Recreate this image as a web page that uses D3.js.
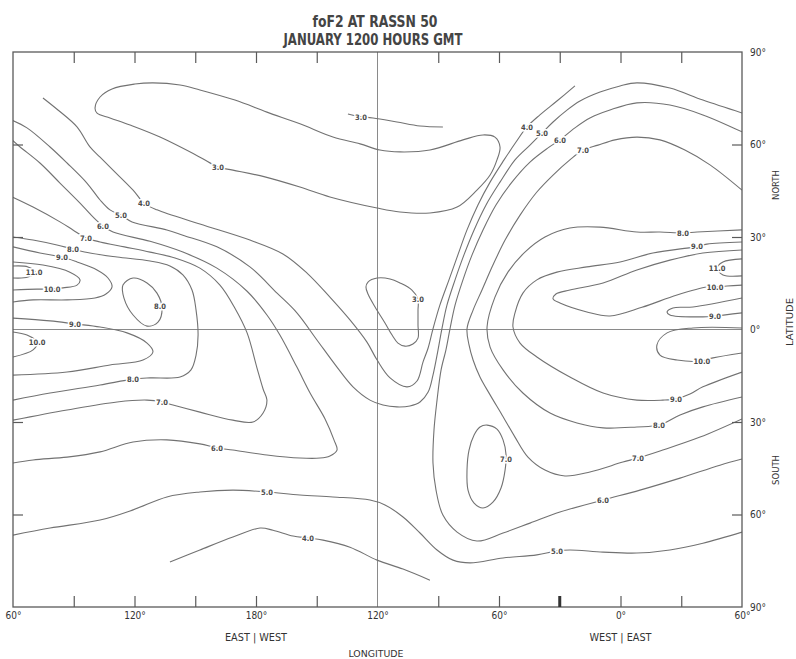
<!DOCTYPE html>
<html>
<head>
<meta charset="utf-8">
<script src="https://cdn.jsdelivr.net/npm/d3@7"></script>
<style>
  body { margin: 0; background: #fff; }
  text { font-family: 'DejaVu Sans Condensed', 'Liberation Sans Narrow', sans-serif; }
</style>
</head>
<body>
<script>
// longitude runs continuously from 60E (left) through 180 to 60E again (420)
const lonTicks = [60, 120, 180, 240, 300, 360, 420]
const lonLabels = ['60°', '120°', '180°', '120°', '60°', '0°', '60°']
const lonMinor = [90, 120, 150, 180, 210, 270, 300, 330, 360, 390]
const latTicks = [90, 60, 30, 0, -30, -60, -90]
const latLabels = ['90°', '60°', '30°', '0°', '30°', '60°', '90°']
const latMinor = [60, 30, -30, -60]

// foF2 contours, [lon, lat]
const f3North = [[100.5,71.8],[103,75.4],[108.9,78],[120.2,79.6],[129.1,80],[142.5,79.3],[152.3,77.7],[169.6,74.4],[185.4,70.5],[201.7,66.7],[218,62.4],[231.4,60.2],[241.2,58.2],[251.1,57.6],[265.9,58.2],[282.2,61.5],[292.1,63.1],[298,62.4],[300.5,59.2],[299,55],[295.6,50.1],[289.1,45.2],[279.3,39.7],[265.9,37.8],[251.1,38.1],[239.8,39.4],[216.5,43],[201.7,46.2],[184.4,49.5],[168.6,51.7],[161.2,52.7],[152.3,55.9],[132.6,62.4],[117.8,66.3],[107.9,68.6],[101.5,70.2]]
const f3Segment = [[225.4,69.9],[229.9,69.2],[237.8,68.6],[249.6,67.3],[261,66],[272.3,65.7]]
const f3Equator = [[235.3,15.4],[239.8,16.7],[246.2,16.4],[251.1,15.1],[257,12.8],[260,9.9],[260,6.3],[260,1.5],[260,-2.8],[257.5,-4.7],[253.6,-5.4],[250.1,-4.4],[247.2,-1.8],[243.7,2.1],[238.8,7.3],[235.3,11.5],[234.3,13.8]]
const f4Main = [[74.8,75.1],[82.2,71.2],[91.6,65.7],[98,59.2],[103,55.9],[109.4,51.7],[119.3,45.2],[124.7,41],[131.1,38.8],[152.3,34.2],[177,29],[193.3,24.5],[205.2,18.3],[216.5,10.5],[226.4,3.1],[234.8,-4.1],[239.8,-9.9],[246.2,-15.7],[254.6,-18.6],[259.5,-16.7],[262.5,-10.5],[265,-6],[267.4,0.2],[270.8,7.9],[275.3,16.1],[279.7,24.2],[284.2,32.3],[289.6,40.4],[295.6,47.8],[302.5,55],[308.4,60.8],[313.8,65.7],[320.2,69.6],[328.6,74.1],[337.5,79]]
const f4South = [[137.5,-75.4],[152.3,-71.5],[168.6,-67.3],[182,-64.4],[188.4,-65.1],[198.3,-67],[205.7,-67.6],[213.1,-68.3],[226.4,-70.6],[239.8,-74.8],[252.6,-77.7],[265.9,-81.3]]
const f5Main = [[59.5,67.9],[66.9,65.4],[78.3,59.2],[86.7,54],[96.5,47.5],[103,42],[107.9,38.8],[113.3,37.1],[118.8,34.9],[136,32.3],[143.9,30.6],[160.7,26.8],[177,20.3],[190.4,11.8],[200.2,5.4],[210.1,-3.4],[220,-12.2],[227.9,-18.6],[236.3,-22.9],[242.7,-24.5],[249.6,-25.1],[256,-24.8],[261,-23.5],[265,-20.3],[267.4,-14.8],[269.9,-6.6],[271.8,0.2],[274.3,7.9],[278.3,16.1],[282.7,24.2],[287.7,32.3],[293.6,40.4],[300.5,47.8],[307.9,55],[315.3,59.8],[321.2,63.7],[326.7,67.3],[333.1,70.9],[340,74.1],[349.9,77],[359.8,79],[368.1,80],[384.4,78.3],[400.7,74.4],[420,70.2]]
const f5South = [[60,-66.7],[78.3,-64.4],[103,-61.8],[119.3,-58.5],[136,-54.3],[152.3,-52.7],[168.6,-52.1],[185.4,-52.7],[201.7,-53.7],[218,-54.3],[236.3,-55.3],[243.7,-56.9],[252.6,-60.8],[261,-66],[269.4,-71.5],[277.3,-74.8],[285.7,-75.7],[302,-74.1],[318.7,-73.1],[328.6,-71.8],[335,-71.5],[351.4,-72.2],[368.1,-72.5],[384.4,-71.5],[400.7,-69.3],[420,-65.7]]
const f6West = [[59.5,61.5],[63.5,59.2],[73.3,54],[83.2,47.5],[93.1,41],[99.5,36.5],[104.4,33.6],[109.4,31.6],[127.7,28.6],[143.9,25.1],[160.7,19.9],[175.6,12.4],[185.4,4.7],[191.8,-1.8],[200.2,-12.2],[206.7,-20.6],[214.1,-29],[218.5,-35.8],[220,-39.1],[216.5,-41],[211.6,-41.7],[201.7,-41.7],[185.4,-40.7],[168.6,-39.1],[160.7,-38.4],[152.3,-37.1],[136,-35.8],[119.3,-36.5],[103,-39.7],[86.7,-41.4],[69.9,-42.3],[60,-43.3]]
const f6East = [[420,64.1],[400.7,69.6],[384.4,72.8],[368.1,73.5],[354.8,71.2],[344.9,68.6],[337.5,65.4],[330.1,61.5],[324.2,58.9],[315.3,54.3],[306.4,47.8],[298.5,40.4],[292.1,32.3],[286.7,24.2],[282.2,16.1],[278.3,7.9],[275.8,0.2],[273.8,-6.6],[271.4,-13.1],[269.4,-22.9],[267.9,-32.6],[267.4,-43.3],[268.9,-52.1],[272.3,-60.2],[279.3,-65.7],[289.1,-68.6],[302,-66],[315.3,-62.8],[330.1,-59.2],[351.4,-55.3],[369.6,-52.1],[389.4,-48.2],[409.1,-44],[420,-42]]
const f7West = [[59.5,43],[69.9,39.7],[83.2,34.9],[89.6,32.3],[96,29.7],[103,28.4],[115,26.8],[127.7,25.1],[140,23.2],[152.3,19.9],[162.2,14.4],[169.6,6.9],[175.6,-1.1],[180.5,-12.5],[183.5,-19.3],[185.4,-22.9],[183.5,-27.1],[178.5,-30],[168.6,-29.4],[152.3,-26.8],[139,-24.5],[133.6,-23.5],[126.2,-22.9],[111.4,-23.5],[86.7,-26.1],[60,-29.4]]
const f7East = [[420,45.2],[404.2,53.4],[391.8,58.2],[379.5,61.5],[368.1,62.4],[357.3,61.5],[348.9,59.8],[341.5,58.2],[335,55],[326.7,50.1],[318.7,44.6],[310.4,37.1],[303,29],[297,20.9],[291.6,12.8],[287.2,6.3],[284.2,0.2],[285.2,-5],[287.2,-9.9],[290.6,-15.4],[295.6,-21.2],[301.5,-27.7],[307.9,-34.9],[314.3,-41.4],[322.7,-45.6],[332.6,-47.5],[344.9,-46.2],[361.2,-43],[368.6,-41.7],[379.5,-39.4],[399.3,-34.9],[420,-29]]
const f7Cell = [[294.1,-31],[299,-32.3],[302,-35.8],[303.5,-40.7],[303,-45.6],[301,-51.4],[297,-56],[292.1,-57.9],[287.7,-56.3],[284.7,-52.1],[284.2,-45.6],[285.2,-39.1],[287.7,-34.2],[290.6,-31.6]]
const f8West = [[60,30],[69.9,29],[81.7,27.4],[89.6,26.1],[98,24.8],[111.4,23.5],[127.7,22.2],[137.5,20.6],[143.9,17.7],[148.4,12.8],[150.4,6.3],[151.4,-1.8],[150.4,-8.3],[147.9,-13.1],[142.5,-15.4],[127.7,-15.7],[119.3,-16.1],[103,-18],[78.3,-20.6],[60,-22.9]]
const f8Cell = [[114.3,14.4],[119.3,16.7],[126.2,15.1],[131.1,11.8],[133.6,7],[131.6,2.4],[126.2,1.1],[119.3,4.7],[114.8,10.2]]
const f8East = [[420,32.3],[397.8,31.6],[390.9,31.3],[379.5,31.6],[368.1,31.6],[349.9,33.2],[335,32.9],[322.7,30],[312.8,25.1],[304.4,18.6],[298,10.5],[294.1,0.8],[295.6,-5.7],[302,-13.1],[311.8,-20.6],[325.2,-27.1],[338.5,-30.3],[351.4,-31.9],[368.1,-31.6],[379,-31],[389.4,-27.7],[400.7,-25.1],[420,-21.9]]
const f9WestN = [[60,26.8],[73.3,24.8],[84.2,23.5],[91.6,21.9],[101.5,19.3],[106.9,16.7],[108.9,13.8],[105.9,11.5],[100.5,10.2],[86.7,9.6],[69.9,9.6],[60,8.9]]
const f9WestS = [[60,3.7],[78.3,2.8],[90.6,1.8],[103,0.8],[116.3,-1.1],[126.2,-4.4],[129.1,-7.3],[124.2,-9.9],[107.9,-11.5],[86.7,-13.8],[60,-14.8]]
const f9East = [[420,28.4],[402.7,27.7],[397.8,26.8],[392.8,26.4],[376,24.8],[359.8,21.9],[343.4,20.3],[328.6,18.6],[318.7,16.1],[311.8,11.8],[307.9,5.4],[306.9,0.8],[310.4,-4.4],[318.7,-8.9],[335,-15.4],[351.4,-20.6],[368.1,-22.9],[380.9,-22.9],[387.4,-22.5],[394.3,-20.9],[400.7,-18.6],[420,-13.8]]
const f9EastCell = [[420,10.2],[395.8,7.3],[385.9,7],[383,5.7],[384.4,4.7],[400.7,4.1],[406.7,4.4],[420,5.4]]
const f10WestN = [[60,21.9],[74.8,20.9],[88.1,18.6],[93.1,16.1],[91.6,14.4],[84.7,13.5],[79.3,13.1],[71.9,13.1],[60,12.8]]
const f10WestS = [[60,-0.8],[66.9,-1.8],[71.9,-4.1],[69.9,-6.6],[60,-8.9]]
const f10EastN = [[420,25.8],[400.7,24.8],[384.4,22.5],[368.1,19.3],[351.4,15.1],[335,12.8],[328.1,11.5],[326.7,9.9],[330.1,8.6],[343.4,5.7],[354.8,4.4],[370.6,7.2],[387.9,11.2],[402.7,13.8],[406.7,13.8],[412.6,14.1],[420,14.4]]
const f10EastS = [[420,0.5],[395.8,0.5],[383,-1.1],[378,-5],[379.5,-8.3],[387.9,-9.9],[400.2,-10.2],[405.7,-9.2],[420,-7.6]]
const f11West = [[60,20.6],[67.4,20.3],[70.9,18.6],[67.4,17],[60,16.7]]
const f11East = [[420,22.9],[410.6,21.9],[407.7,19.9],[410.6,17.7],[420,17.4]]

const contours = [
  { pts: f3North, closed: true }, { pts: f3Segment }, { pts: f3Equator, closed: true },
  { pts: f4Main }, { pts: f4South }, { pts: f5Main }, { pts: f5South },
  { pts: f6West }, { pts: f6East }, { pts: f7West }, { pts: f7East }, { pts: f7Cell, closed: true },
  { pts: f8West }, { pts: f8Cell, closed: true }, { pts: f8East },
  { pts: f9WestN }, { pts: f9WestS }, { pts: f9East }, { pts: f9EastCell },
  { pts: f10WestN }, { pts: f10WestS }, { pts: f10EastN }, { pts: f10EastS },
  { pts: f11West }, { pts: f11East },
]

// contour labels: text, lon, lat
const labelText = ['3.0', '3.0', '3.0', '4.0', '4.0', '4.0', '5.0', '5.0', '5.0', '5.0',
  '6.0', '6.0', '6.0', '6.0', '7.0', '7.0', '7.0', '7.0', '7.0',
  '8.0', '8.0', '8.0', '8.0', '8.0', '9.0', '9.0', '9.0', '9.0', '9.0',
  '10.0', '10.0', '10.0', '10.0', '11.0', '11.0']
const labelLon = [161.2, 231.9, 260, 124.7, 313.8, 205.7, 113.3, 321.2, 185.4, 328.6,
  104.4, 330.1, 160.7, 351.4, 96, 341.5, 133.6, 368.6, 303.5,
  89.6, 132.6, 119.3, 390.9, 379, 84.2, 90.6, 397.8, 406.7, 387.4,
  79.3, 71.9, 406.7, 400.2, 70.4, 407.7]
const labelLat = [52.7, 68.9, 9.9, 41, 65.7, -67.6, 37.1, 63.7, -52.7, -71.8,
  33.6, 61.5, -38.4, -55.3, 29.7, 58.2, -23.5, -41.7, -42,
  26.1, 7.6, -16.1, 31.3, -31, 23.5, 1.8, 26.8, 4.4, -22.5,
  13.1, -4.1, 13.8, -10.2, 18.6, 19.9]

const width = 796
const height = 659
const ink = '#727272'

const x = d3.scaleLinear().domain([60, 420]).range([13, 742])
const y = d3.scaleLinear().domain([90, -90]).range([52, 607])

const svg = d3.select('body').append('svg')
  .attr('width', width)
  .attr('height', height)

svg.append('clipPath').attr('id', 'frame')
  .append('rect')
  .attr('x', x(60)).attr('y', y(90))
  .attr('width', x(420) - x(60)).attr('height', y(-90) - y(90))

// grid: equator and 120W meridian
svg.append('line')
  .attr('x1', x(60)).attr('x2', x(420)).attr('y1', y(0)).attr('y2', y(0))
  .attr('stroke', '#8a8a8a').attr('stroke-width', 1)
svg.append('line')
  .attr('x1', x(240)).attr('x2', x(240)).attr('y1', y(90)).attr('y2', y(-90))
  .attr('stroke', '#8a8a8a').attr('stroke-width', 1)

const lineOpen = d3.line().x((d) => x(d[0])).y((d) => y(d[1])).curve(d3.curveCatmullRom.alpha(0.5))
const lineClosed = d3.line().x((d) => x(d[0])).y((d) => y(d[1])).curve(d3.curveCatmullRomClosed.alpha(0.5))

svg.append('g')
  .attr('clip-path', 'url(#frame)')
  .selectAll('path')
  .data(contours)
  .enter()
  .append('path')
  .attr('d', (d) => (d.closed ? lineClosed(d.pts) : lineOpen(d.pts)))
  .attr('fill', 'none')
  .attr('stroke', ink)
  .attr('stroke-width', 1.1)

// labels on the contours, with a white halo to break the line
svg.append('g')
  .selectAll('text')
  .data(labelText)
  .enter()
  .append('text')
  .attr('x', (d, i) => x(labelLon[i]))
  .attr('y', (d, i) => y(labelLat[i]))
  .attr('dy', '0.35em')
  .attr('text-anchor', 'middle')
  .attr('font-size', 7.5)
  .attr('font-weight', 'bold')
  .attr('fill', '#4a4a4a')
  .attr('stroke', '#fff')
  .attr('stroke-width', 3)
  .attr('paint-order', 'stroke')
  .text((d) => d)

// frame
svg.append('rect')
  .attr('x', x(60)).attr('y', y(90))
  .attr('width', x(420) - x(60)).attr('height', y(-90) - y(90))
  .attr('fill', 'none').attr('stroke', '#5a5a5a').attr('stroke-width', 1.3)

// inward ticks on all four sides
const tickStyle = (g) => {
  g.select('.domain').remove()
  g.selectAll('line').attr('stroke', '#5a5a5a').attr('stroke-width', 1.2)
}
svg.append('g').attr('transform', `translate(0,${y(90)})`)
  .call(d3.axisTop(x).tickValues(lonMinor).tickSize(-11).tickFormat(''))
  .call(tickStyle)
svg.append('g').attr('transform', `translate(0,${y(-90)})`)
  .call(d3.axisBottom(x).tickValues(lonMinor).tickSize(-11).tickFormat(''))
  .call(tickStyle)
svg.append('g').attr('transform', `translate(${x(60)},0)`)
  .call(d3.axisLeft(y).tickValues(latMinor).tickSize(-10).tickFormat(''))
  .call(tickStyle)
svg.append('g').attr('transform', `translate(${x(420)},0)`)
  .call(d3.axisRight(y).tickValues(latMinor).tickSize(-10).tickFormat(''))
  .call(tickStyle)

// heavy marker at 30W on the bottom edge
svg.append('line')
  .attr('x1', x(330)).attr('x2', x(330))
  .attr('y1', y(-90)).attr('y2', y(-90) - 11)
  .attr('stroke', '#333').attr('stroke-width', 3)

// longitude labels
const lonAxis = svg.append('g').attr('transform', `translate(0,${y(-90)})`)
  .call(d3.axisBottom(x).tickValues(lonTicks).tickSize(0).tickPadding(5)
    .tickFormat((d, i) => lonLabels[i]))
lonAxis.select('.domain').remove()
lonAxis.selectAll('text')
  .attr('font-size', 10).attr('fill', '#333')
  .style('font-family', "'DejaVu Sans Condensed', sans-serif")

// latitude labels
const latAxis = svg.append('g').attr('transform', `translate(${x(420)},0)`)
  .call(d3.axisRight(y).tickValues(latTicks).tickSize(0).tickPadding(8)
    .tickFormat((d, i) => latLabels[i]))
latAxis.select('.domain').remove()
latAxis.selectAll('text')
  .attr('font-size', 10).attr('fill', '#333')
  .style('font-family', "'DejaVu Sans Condensed', sans-serif")

// titles
svg.append('text')
  .attr('x', 375).attr('y', 27)
  .attr('text-anchor', 'middle')
  .attr('font-size', 15).attr('font-weight', 'bold').attr('fill', '#444')
  .attr('textLength', 125).attr('lengthAdjust', 'spacingAndGlyphs')
  .text('foF2 AT RASSN 50')
svg.append('text')
  .attr('x', 373).attr('y', 45)
  .attr('text-anchor', 'middle')
  .attr('font-size', 15).attr('font-weight', 'bold').attr('fill', '#444')
  .attr('textLength', 179).attr('lengthAdjust', 'spacingAndGlyphs')
  .text('JANUARY  1200 HOURS GMT')

// axis words
const word = (txt, tx, ty, rot, size, len) => {
  const t = svg.append('text')
    .attr('transform', `translate(${tx},${ty}) rotate(${rot})`)
    .attr('text-anchor', 'middle')
    .attr('font-size', size).attr('fill', '#333')
    .text(txt)
  if (len) t.attr('textLength', len).attr('lengthAdjust', 'spacingAndGlyphs')
}
word('EAST  |  WEST', x(180), 641, 0, 10, 62)
word('WEST  |  EAST', x(360), 641, 0, 10, 62)
word('LONGITUDE', 376, 657, 0, 9, 55)
word('NORTH', 779, 185, -90, 9, 30)
word('LATITUDE', 793, 322, -90, 9, 48)
word('SOUTH', 779, 470, -90, 9, 30)
</script>
</body>
</html>
